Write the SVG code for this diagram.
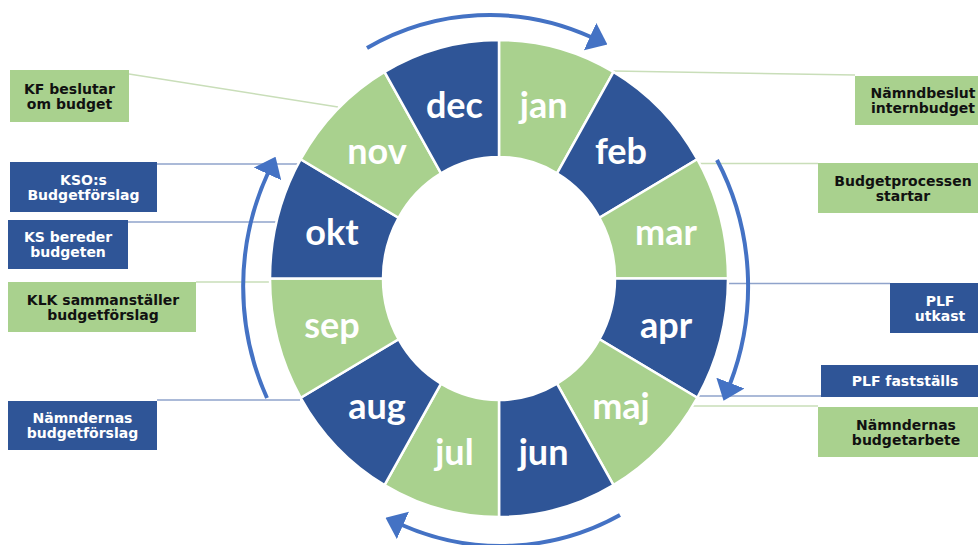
<svg xmlns="http://www.w3.org/2000/svg" width="978" height="545" viewBox="0 0 978 545">
<style>
.g{fill:#A9D18E}
.b{fill:#2F5597}
.seg{stroke:#ffffff;stroke-width:2.5}
.m{font-family:Lato,"Open Sans",sans-serif;font-weight:bold;font-size:36px;fill:#ffffff;text-anchor:middle}
.t{font-family:"DejaVu Sans",Verdana,sans-serif;font-weight:bold;font-size:14px;text-anchor:middle}
.tw{fill:#ffffff}
.tk{fill:#111111}
.lg{stroke:#C9DEB9;stroke-width:1.6;fill:none}
.lb{stroke:#8FA3CB;stroke-width:1.6;fill:none}
.arc{stroke:#4472C4;stroke-width:4;fill:none;marker-end:url(#ah)}
</style>
<defs>
<marker id="ah" markerUnits="userSpaceOnUse" viewBox="0 -15 19 30" markerWidth="19" markerHeight="30" refX="1" refY="0" orient="auto">
<path d="M0,-15 L19,0 L0,15 Z" fill="#4472C4"/>
</marker>
</defs>
<rect width="978" height="545" fill="#ffffff"/>
<g id="connectors">
<line class="lg" x1="129" y1="74" x2="338" y2="107"/>
<line class="lb" x1="157" y1="164" x2="299" y2="164"/>
<line class="lb" x1="128" y1="222" x2="277" y2="222"/>
<line class="lg" x1="196" y1="282" x2="271" y2="282"/>
<line class="lb" x1="157" y1="400" x2="300" y2="400"/>
<line class="lg" x1="613" y1="71" x2="855" y2="75"/>
<line class="lg" x1="699" y1="163.5" x2="818" y2="163.5"/>
<line class="lb" x1="727" y1="283.5" x2="890" y2="283.5"/>
<line class="lb" x1="697" y1="396" x2="821" y2="396"/>
<line class="lg" x1="693" y1="406" x2="818" y2="406"/>
<path class="arc" d="M367,48 A253,263 0 0 1 591,37"/>
<path class="arc" d="M717,160 A253,263 0 0 1 730,384"/>
<path class="arc" d="M620,515 A253,263 0 0 1 402,525"/>
<path class="arc" d="M267,398 A253,263 0 0 1 268,173"/>
</g>
<g id="jan"><path class="seg g" d="M499,40 A229,238.5 0 0 1 613.5,71.95 L557,173.28 A116,121.5 0 0 0 499,157 Z"/><text class="m" x="543.6" y="117.6">jan</text></g>
<g id="feb"><path class="seg b" d="M613.5,71.95 A229,238.5 0 0 1 697.31,159.25 L599.46,217.75 A116,121.5 0 0 0 557,173.28 Z"/><text class="m" x="621" y="164.2">feb</text></g>
<g id="mar"><path class="seg g" d="M697.31,159.25 A229,238.5 0 0 1 728,278.5 L615,278.5 A116,121.5 0 0 0 599.46,217.75 Z"/><text class="m" x="666" y="245">mar</text></g>
<g id="apr"><path class="seg b" d="M728,278.5 A229,238.5 0 0 1 697.31,397.75 L599.46,339.25 A116,121.5 0 0 0 615,278.5 Z"/><text class="m" x="666" y="338">apr</text></g>
<g id="maj"><path class="seg g" d="M697.31,397.75 A229,238.5 0 0 1 613.5,485.05 L557,383.72 A116,121.5 0 0 0 599.46,339.25 Z"/><text class="m" x="621" y="418.5">maj</text></g>
<g id="jun"><path class="seg b" d="M613.5,485.05 A229,238.5 0 0 1 499,517 L499,400 A116,121.5 0 0 0 557,383.72 Z"/><text class="m" x="543.6" y="465">jun</text></g>
<g id="jul"><path class="seg g" d="M499,517 A229,238.5 0 0 1 384.5,485.05 L441,383.72 A116,121.5 0 0 0 499,400 Z"/><text class="m" x="454.4" y="465">jul</text></g>
<g id="aug"><path class="seg b" d="M384.5,485.05 A229,238.5 0 0 1 300.69,397.75 L398.54,339.25 A116,121.5 0 0 0 441,383.72 Z"/><text class="m" x="377" y="418.5">aug</text></g>
<g id="sep"><path class="seg g" d="M300.69,397.75 A229,238.5 0 0 1 270,278.5 L383,278.5 A116,121.5 0 0 0 398.54,339.25 Z"/><text class="m" x="332" y="338">sep</text></g>
<g id="okt"><path class="seg b" d="M270,278.5 A229,238.5 0 0 1 300.69,159.25 L398.54,217.75 A116,121.5 0 0 0 383,278.5 Z"/><text class="m" x="332" y="245">okt</text></g>
<g id="nov"><path class="seg g" d="M300.69,159.25 A229,238.5 0 0 1 384.5,71.95 L441,173.28 A116,121.5 0 0 0 398.54,217.75 Z"/><text class="m" x="377" y="164.2">nov</text></g>
<g id="dec"><path class="seg b" d="M384.5,71.95 A229,238.5 0 0 1 499,40 L499,157 A116,121.5 0 0 0 441,173.28 Z"/><text class="m" x="454.4" y="117.6">dec</text></g>
<g id="kf"><rect class="g" x="10" y="70" width="119" height="52"/><text class="t tk" x="69.5" y="93.5">KF beslutar</text><text class="t tk" x="69.5" y="108.5">om budget</text></g>
<g id="kso"><rect class="b" x="10" y="162" width="147" height="50"/><text class="t tw" x="83.5" y="184.5">KSO:s</text><text class="t tw" x="83.5" y="199.5">Budgetförslag</text></g>
<g id="ks"><rect class="b" x="8" y="220" width="120" height="49"/><text class="t tw" x="68" y="242">KS bereder</text><text class="t tw" x="68" y="257">budgeten</text></g>
<g id="klk"><rect class="g" x="8" y="282" width="188" height="50"/><text class="t tk" x="103" y="304.5">KLK sammanställer</text><text class="t tk" x="103" y="319.5">budgetförslag</text></g>
<g id="nbf"><rect class="b" x="8" y="401" width="149" height="49"/><text class="t tw" x="82.5" y="423">Nämndernas</text><text class="t tw" x="82.5" y="438">budgetförslag</text></g>
<g id="nbi"><rect class="g" x="855" y="76" width="140" height="49"/><text class="t tk" x="923" y="98">Nämndbeslut</text><text class="t tk" x="923" y="113">internbudget</text></g>
<g id="bps"><rect class="g" x="818" y="163" width="175" height="50"/><text class="t tk" x="903" y="185.5">Budgetprocessen</text><text class="t tk" x="903" y="200.5">startar</text></g>
<g id="plfu"><rect class="b" x="890" y="283" width="103" height="50"/><text class="t tw" x="940" y="305.5">PLF</text><text class="t tw" x="940" y="320.5">utkast</text></g>
<g id="plff"><rect class="b" x="821" y="365" width="172" height="32"/><text class="t tw" x="905" y="386">PLF fastställs</text></g>
<g id="nba"><rect class="g" x="818" y="407" width="175" height="50"/><text class="t tk" x="906" y="429.5">Nämndernas</text><text class="t tk" x="906" y="444.5">budgetarbete</text></g>
</svg>
